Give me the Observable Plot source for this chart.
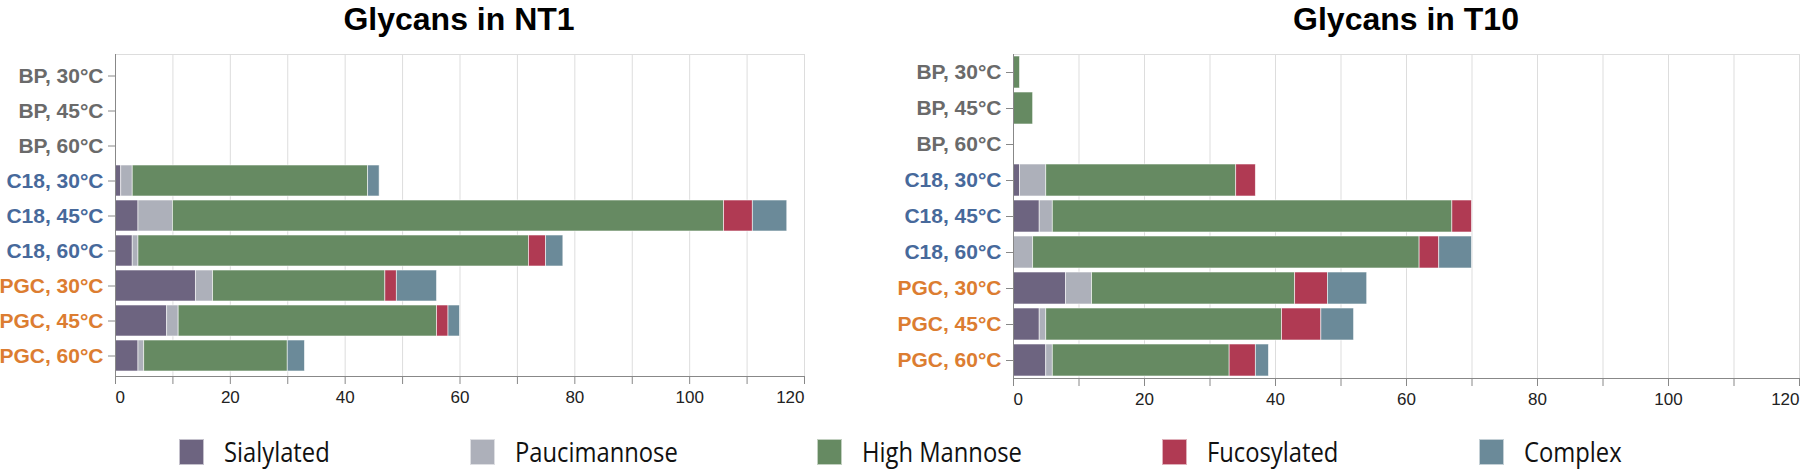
<!DOCTYPE html>
<html><head><meta charset="utf-8">
<script src="https://cdn.jsdelivr.net/npm/d3@7"></script>
<script src="https://cdn.jsdelivr.net/npm/@observablehq/plot@0.6"></script>
<style>
html,body{margin:0;padding:0;background:#fff;width:1800px;height:474px;overflow:hidden;}
#root{position:relative;width:1800px;height:474px;}
.panel{position:absolute;top:0;}
.title{position:absolute;top:0px;width:400px;font:bold 32px "Liberation Sans",Arial,sans-serif;line-height:38px;text-align:center;color:#000;}
#legend{position:absolute;left:0;top:433px;width:1800px;display:flex;justify-content:center;align-items:center;font-family:"Open Sans",sans-serif;font-size:27px;color:#111;}
.item{display:flex;align-items:center;margin:0 70px;}
.sw{width:25px;height:26px;margin-right:20px;box-sizing:border-box;border:1px solid rgba(255,255,255,0.6);flex:none;}
.lt{display:inline-block;white-space:nowrap;transform-origin:0 50%;}
</style></head><body><div id="root"></div>
<script>
const categories = ["BP, 30°C","BP, 45°C","BP, 60°C","C18, 30°C","C18, 45°C","C18, 60°C","PGC, 30°C","PGC, 45°C","PGC, 60°C"];
const series = ["Sialylated","Paucimannose","High Mannose","Fucosylated","Complex"];
const seriesColors = ["#6d6480","#adb0ba","#668a62","#b03a53","#6b8a99"];
const groupColors = {BP: "#6a6a6a", C18: "#47699b", PGC: "#dc7d31"};
const xTicks = [0,10,20,30,40,50,60,70,80,90,100,110,120];

// Glycans in NT1
const nt1Sialylated  = [0,0,0,1,4,3,14,9,4];
const nt1Paucimannose= [0,0,0,2,6,1,3,2,1];
const nt1HighMannose = [0,0,0,41,96,68,30,45,25];
const nt1Fucosylated = [0,0,0,0,5,3,2,2,0];
const nt1Complex     = [0,0,0,2,6,3,7,2,3];

// Glycans in T10
const t10Sialylated  = [0,0,0,1,4,0,8,4,5];
const t10Paucimannose= [0,0,0,4,2,3,4,1,1];
const t10HighMannose = [1,3,0,29,61,59,31,36,27];
const t10Fucosylated = [0,0,0,3,3,3,5,6,4];
const t10Complex     = [0,0,0,0,0,5,6,5,2];

const colorOf = Object.fromEntries(series.map((s,i)=>[s,seriesColors[i]]));
const labelColor = c => groupColors[c.split(",")[0]];

function buildData(cols){
  const data = [];
  series.forEach((s,i)=>categories.forEach((c,j)=>data.push({category:c, series:s, value:cols[i][j]})));
  return data;
}

function panel(cols, width, ml, mr, mb){
  const data = buildData(cols);
  const axisOpts = {tickSize: 8, tickPadding: 6, stroke: "#888", fill: "#222", fontSize: 17};
  return Plot.plot({
    width, height: 420, marginLeft: ml, marginRight: mr, marginTop: 54, marginBottom: mb,
    style: {fontFamily: "'Liberation Sans', Arial, sans-serif", fontSize: "16px", background: "transparent", overflow: "visible"},
    x: {domain: [0,120], label: null},
    y: {domain: categories, paddingInner: 0.12, paddingOuter: 0.05, label: null},
    color: {type: "identity"},
    marks: [
      Plot.frame({stroke: "#ddd"}),
      Plot.gridX(xTicks, {stroke: "#ddd", strokeOpacity: 1}),
      Plot.barX(data, {x: "value", y: "category", fill: d => colorOf[d.series], stroke: "white", strokeOpacity: 0.7, strokeWidth: 0.8}),
      Plot.frame({anchor: "left", stroke: "#888"}),
      Plot.frame({anchor: "bottom", stroke: "#888"}),
      Plot.axisX(xTicks, {...axisOpts, tickFormat: d => (d % 20 === 0 && d > 0 && d < 120) ? String(d) : ""}),
      Plot.axisX([0], {...axisOpts, textAnchor: "start"}),
      Plot.axisX([120], {...axisOpts, textAnchor: "end"}),
      Plot.axisY({tickSize: 7, tickPadding: 5, stroke: "#888", fill: d => labelColor(d), fontSize: 21, fontWeight: "bold"})
    ]
  });
}

const root = document.getElementById("root");
function place(el, left){ const d = document.createElement("div"); d.className = "panel"; d.style.left = left + "px"; d.appendChild(el); root.appendChild(d); }
place(panel([nt1Sialylated,nt1Paucimannose,nt1HighMannose,nt1Fucosylated,nt1Complex], 840, 115, 36, 44), 0);
place(panel([t10Sialylated,t10Paucimannose,t10HighMannose,t10Fucosylated,t10Complex], 900, 113, 1, 42), 900);

function title(text, center){ const t = document.createElement("div"); t.className = "title"; t.textContent = text; t.style.left = (center - 200) + "px"; root.appendChild(t); }
title("Glycans in NT1", 459);
title("Glycans in T10", 1406);

const legend = document.createElement("div"); legend.id = "legend";
root.appendChild(legend);
const squeeze = 0.88;
series.forEach((s,i)=>{
  const it = document.createElement("div"); it.className = "item";
  const sw = document.createElement("div"); sw.className = "sw"; sw.style.background = seriesColors[i];
  const tx = document.createElement("span"); tx.className = "lt"; tx.textContent = s;
  it.appendChild(sw); it.appendChild(tx); legend.appendChild(it);
  const w = tx.getBoundingClientRect().width;
  tx.style.transform = `scaleX(${squeeze})`;
  tx.style.marginRight = (-(1 - squeeze) * w) + "px";
});
</script></body></html>
